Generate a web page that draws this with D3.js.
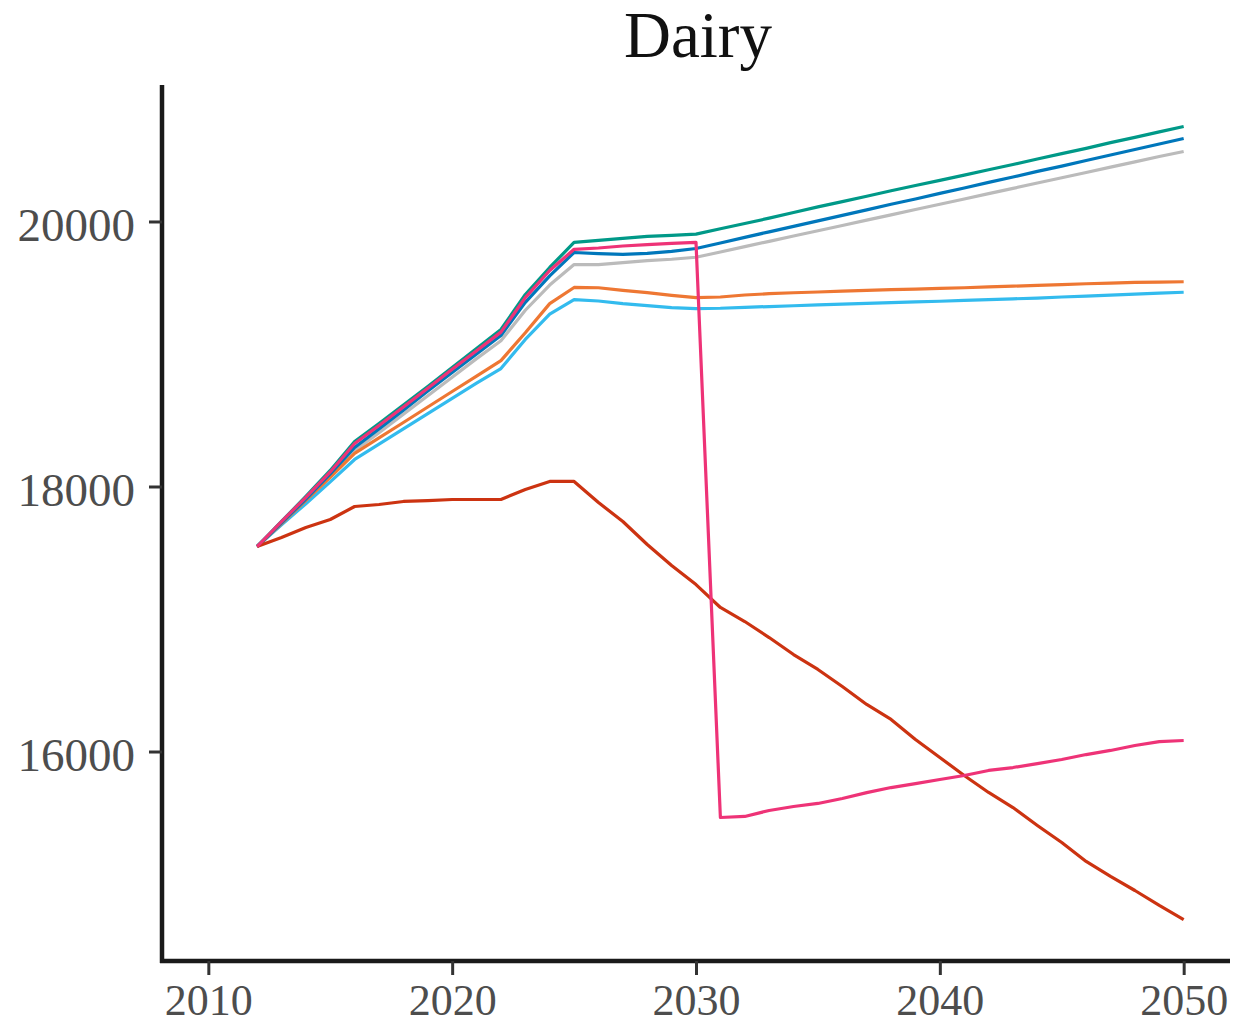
<!DOCTYPE html>
<html>
<head>
<meta charset="utf-8">
<script src="https://cdn.jsdelivr.net/npm/d3@7"></script>
<style>
  html, body { margin: 0; padding: 0; background: #fff; }
  svg { display: block; }
</style>
</head>
<body>
<svg id="chart" width="1234" height="1026"></svg>
<script>
// Dairy projections, 2012–2050 (one value per year)
const years = d3.range(2012, 2051);

const seriesTeal = [17547, 17736, 17925, 18121, 18340, 18475, 18615, 18755, 18898, 19042, 19185, 19449, 19653, 19842, 19857, 19872, 19887, 19895, 19905,
  19945, 19985, 20025, 20068, 20110, 20150, 20190, 20232, 20272, 20310, 20350, 20390, 20430, 20472, 20512, 20552, 20595, 20635, 20676, 20717];
const seriesBlue = [17547, 17725, 17905, 18095, 18295, 18435, 18575, 18720, 18860, 19000, 19140, 19390, 19590, 19766, 19758, 19752, 19760, 19775, 19796,
  19838, 19880, 19922, 19963, 20005, 20046, 20088, 20130, 20170, 20212, 20253, 20295, 20336, 20378, 20418, 20460, 20502, 20543, 20585, 20626];
const seriesGrey = [17547, 17715, 17890, 18075, 18270, 18405, 18545, 18685, 18825, 18965, 19100, 19330, 19520, 19675, 19675, 19690, 19705, 19715, 19730,
  19770, 19810, 19850, 19890, 19930, 19970, 20010, 20050, 20090, 20130, 20170, 20210, 20250, 20290, 20330, 20370, 20410, 20450, 20490, 20528];
const seriesOrange = [17547, 17720, 17895, 18070, 18250, 18367, 18483, 18600, 18717, 18833, 18950, 19160, 19380, 19502, 19500, 19480, 19463, 19443, 19426,
  19430, 19445, 19455, 19462, 19468, 19474, 19480, 19486, 19490, 19495, 19500, 19506, 19512, 19518, 19524, 19530, 19535, 19540, 19542, 19545];
const seriesCyan = [17547, 17710, 17870, 18035, 18204, 18320, 18435, 18550, 18665, 18780, 18890, 19110, 19300, 19411, 19400, 19380, 19365, 19350, 19343,
  19345, 19352, 19358, 19364, 19370, 19376, 19382, 19388, 19393, 19398, 19404, 19410, 19416, 19422, 19430, 19437, 19444, 19452, 19459, 19466];
const seriesRed = [17547, 17615, 17691, 17751, 17849, 17864, 17887, 17894, 17902, 17902, 17902, 17977, 18038, 18038, 17879, 17736, 17562, 17404, 17260,
  17087, 16981, 16860, 16732, 16619, 16491, 16355, 16242, 16091, 15955, 15819, 15691, 15577, 15442, 15313, 15170, 15057, 14951, 14838, 14732];
const seriesMagenta = [17547, 17735, 17918, 18110, 18325, 18460, 18600, 18742, 18885, 19025, 19165, 19425, 19630, 19790, 19800, 19815, 19826, 19835, 19842,
  15502, 15510, 15555, 15585, 15608, 15645, 15690, 15728, 15758, 15789, 15819, 15857, 15879, 15909, 15940, 15977, 16008, 16045, 16075, 16083];

const xTicks = [2010, 2020, 2030, 2040, 2050];
const yTicks = [16000, 18000, 20000];

// drawing order, bottom to top
const series = [
  { values: seriesGrey,    color: "#BBBBBB" },
  { values: seriesCyan,    color: "#33BBEE" },
  { values: seriesOrange,  color: "#EE7733" },
  { values: seriesBlue,    color: "#0077BB" },
  { values: seriesTeal,    color: "#009988" },
  { values: seriesRed,     color: "#CC3311" },
  { values: seriesMagenta, color: "#EE3377" }
];

const svg = d3.select("#chart");
const plotLeft = 162, plotRight = 1230, plotTop = 85, plotBottom = 961;

const x = d3.scaleLinear().domain([2008.1, 2051.9]).range([plotLeft, plotRight]);
const y = d3.scaleLinear().domain([14419, 21030]).range([plotBottom, plotTop]);

const font = "'Liberation Serif', 'Times New Roman', serif";

// title
svg.append("text")
  .attr("x", (plotLeft + plotRight) / 2 + 2)
  .attr("y", 57)
  .attr("text-anchor", "middle")
  .style("font-family", font)
  .style("font-size", "65px")
  .style("fill", "#111")
  .text("Dairy");

// lines
const line = d3.line()
  .x((d, i) => x(years[i]))
  .y(d => y(d));

svg.append("g")
  .selectAll("path")
  .data(series)
  .join("path")
  .attr("d", s => line(s.values))
  .attr("fill", "none")
  .attr("stroke", s => s.color)
  .attr("stroke-width", 3.2)
  .attr("stroke-linejoin", "round");

// axes
const xAxis = d3.axisBottom(x).tickValues(xTicks).tickFormat(d3.format("d"))
  .tickSizeOuter(0).tickSizeInner(14).tickPadding(9);
const yAxis = d3.axisLeft(y).tickValues(yTicks).tickFormat(d3.format("d"))
  .tickSizeOuter(0).tickSizeInner(13).tickPadding(14);

const gx = svg.append("g").attr("transform", `translate(0,${plotBottom})`).call(xAxis);
const gy = svg.append("g").attr("transform", `translate(${plotLeft},0)`).call(yAxis);

[gx, gy].forEach(g => {
  g.select(".domain").attr("stroke", "#1a1a1a").attr("stroke-width", 4.5);
  g.selectAll(".tick line").attr("stroke", "#333").attr("stroke-width", 3);
  g.selectAll(".tick text")
    .style("font-family", font)
    .style("fill", "#4d4d4d");
});
gy.selectAll(".tick text").style("font-size", "47px").attr("dy", "0.4em");
gx.selectAll(".tick text").style("font-size", "44px").attr("dy", "0.7em");

// extend the axis lines so they meet at the corner
gx.select(".domain").attr("d", `M${plotLeft - 2},0H${plotRight}`);
gy.select(".domain").attr("d", `M0,${plotTop}V${plotBottom + 2}`);
</script>
</body>
</html>
